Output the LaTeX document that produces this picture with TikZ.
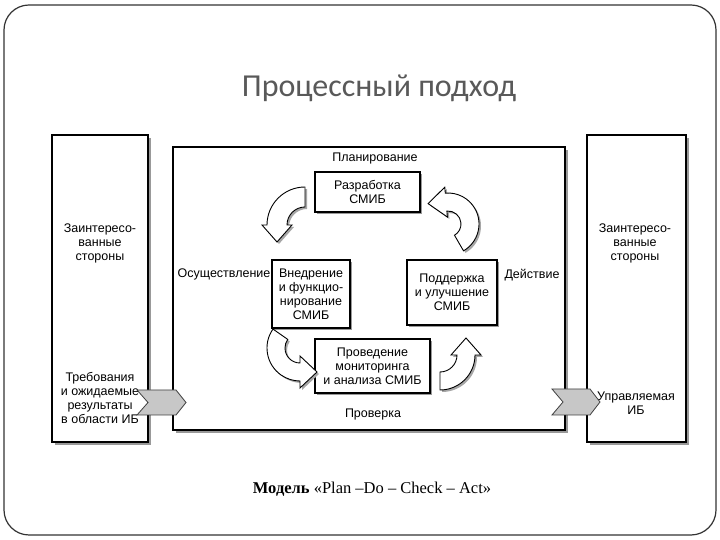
\documentclass[tikz,border=0pt]{standalone}
\usepackage{fontspec}
\setmainfont{Liberation Serif}
\setsansfont{Liberation Sans}
\newfontfamily\titlefont{Carlito}
\usetikzlibrary{calc}
% curved block arrow: #1 cx, #2 cy, #3 r, #4 half width, #5 start angle, #6 end angle, #7 head length, #8 head half width, #9 style
\newcommand\arrpath[9]{%
  \pgfmathsetmacro\aro{#3+#4}\pgfmathsetmacro\ari{#3-#4}%
  \pgfmathsetmacro\aho{#3+#8}\pgfmathsetmacro\ahi{#3-#8}%
  \path[#9] ([shift={(#1,#2)}]#5:\aro pt) arc[start angle=#5,end angle=#6,radius=\aro pt]
    -- ([shift={(#1,#2)}]#6:\aho pt)
    -- ($(#1,#2)+(#6:#3 pt)+(#6+90:#7 pt)$)
    -- ([shift={(#1,#2)}]#6:\ahi pt)
    -- ([shift={(#1,#2)}]#6:\ari pt)
    arc[start angle=#6,end angle=#5,radius=\ari pt] -- cycle;}
\newcommand\curvarrow[8]{%
  \arrpath{#1+2}{#2-2}{#3}{#4}{#5}{#6}{#7}{#8}{arrsh}%
  \arrpath{#1}{#2}{#3}{#4}{#5}{#6}{#7}{#8}{arrfill}}
\begin{document}
\begin{tikzpicture}[x=1pt,y=1pt,
  lbl/.style={font=\sffamily\fontsize{12.5}{14}\selectfont, align=center, inner sep=0pt},
  bigbox/.style={draw=black, line width=1.8pt, fill=white, inner sep=0pt},
  smallbox/.style={draw=black, line width=1.4pt, fill=white, align=center, inner sep=0pt,
     font=\sffamily\fontsize{12.5}{14}\selectfont},
  shadowbox/.style={fill=black!40, draw=none},
  chev/.style={draw=black!75, line width=0.8pt, fill=black!22},
  arrsh/.style={fill=black!35},
  arrfill/.style={draw=black, line width=0.9pt, fill=white}]
\useasboundingbox (0,0) rectangle (720,540);
\fill[white] (0,0) rectangle (720,540);
\draw[rounded corners=25pt, line width=1.2pt, draw=black!80] (4,5) rectangle (716,535);

\node[font=\titlefont\fontsize{32}{36}\selectfont, text=black!65] (title) at (379,452) {Процессный подход};

% shadows of outer boxes
\fill[shadowbox] (55,95) rectangle (151,402);
\fill[shadowbox] (176,107) rectangle (568,390);
\fill[shadowbox] (590,95) rectangle (689,402);

\node[bigbox, minimum width=96pt, minimum height=307pt] (L) at (100,251.5) {};
\node[bigbox, minimum width=392pt, minimum height=283pt] (M) at (369,251.5) {};
\node[bigbox, minimum width=99pt, minimum height=307pt] (R) at (636.5,251.5) {};

\node[lbl] (l1) at (100,296.5) {Заинтересо-\\ванные\\стороны};
\node[lbl] (l2) at (100,142) {Требования\\и ожидаемые\\результаты\\в области ИБ};
\node[lbl] (r1) at (635,296.5) {Заинтересо-\\ванные\\стороны};
\node[lbl] (r2) at (636,137) {Управляемая\\ИБ};

% chevrons
\draw[chev] (137,150) -- (176,150) -- (186,137.5) -- (176,125) -- (137,125) -- (148,137.5) -- cycle;
\draw[chev] (552,151) -- (590,151) -- (600,138) -- (590,125) -- (552,125) -- (563,138) -- cycle;

% inner boxes shadows
\fill[shadowbox] (317,326) rectangle (422,366);
\fill[shadowbox] (274,210) rectangle (352,278);
\fill[shadowbox] (409,213) rectangle (499,278);
\fill[shadowbox] (317,145) rectangle (432,199);

\node[smallbox, minimum width=105pt, minimum height=40pt] (P) at (367.5,348) {Разработка\\СМИБ};
\node[smallbox, minimum width=78pt, minimum height=68pt] (D) at (311,246) {Внедрение\\и функцио-\\нирование\\СМИБ};
\node[smallbox, minimum width=90pt, minimum height=65pt] (A) at (452,247.5) {Поддержка\\и улучшение\\СМИБ};
\node[smallbox, minimum width=115pt, minimum height=54pt] (C) at (372.5,174) {Проведение\\мониторинга\\и анализа СМИБ};

\node[lbl] (plan) at (375,381) {Планирование};
\node[lbl] (do) at (224,266) {Осуществление};
\node[lbl] (act) at (532,265) {Действие};
\node[lbl] (check) at (373,125) {Проверка};

% curved arrows
\curvarrow{305}{315}{28}{10}{90}{180}{17}{15}
\curvarrow{448}{316}{22}{9}{-60}{95}{18}{15}
\curvarrow{300}{192}{24}{9}{145}{270}{17}{16}
\curvarrow{440}{185}{26}{9}{-90}{0}{17}{15}

\node[font=\fontsize{16.5}{19}\selectfont] (cap) at (372,51) {\textbf{Модель} «Plan –Do – Check – Act»};
\end{tikzpicture}
\end{document}
